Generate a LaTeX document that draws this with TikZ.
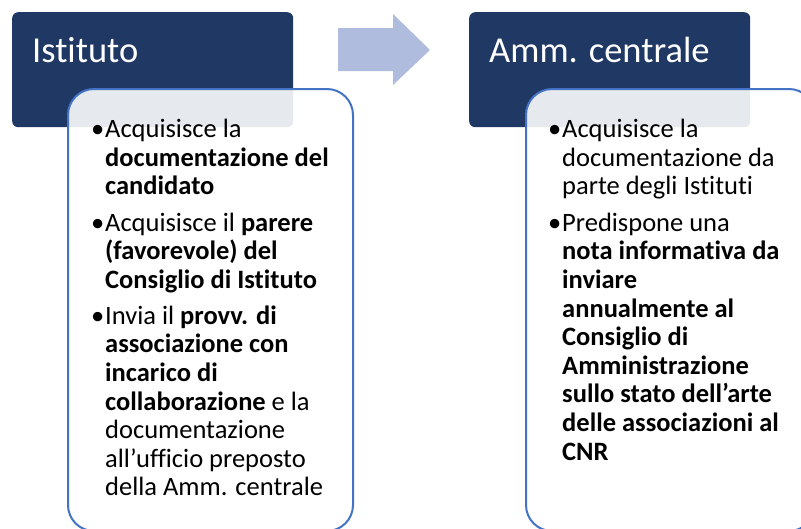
\documentclass[tikz,border=0pt]{standalone}
\usepackage{fontspec}
\setmainfont{Carlito}[Ligatures=NoCommon]
\usepackage{tikz}
\usetikzlibrary{positioning}

\definecolor{headnavy}{RGB}{32,56,100}
\definecolor{boxblue}{RGB}{68,114,196}
\definecolor{arrowblue}{RGB}{175,188,222}

\tikzset{
  headbox/.style={fill=headnavy, rounded corners=6pt, anchor=north west,
    minimum width=281pt, minimum height=115pt, inner sep=0pt},
  bodybox/.style={draw=boxblue, line width=2pt, fill=white, fill opacity=0.89,
    rounded corners=26pt},
  headtext/.style={text=white, font=\fontsize{36.5}{42}\selectfont,
    anchor=base west, inner sep=0pt},
  itemtext/.style={font=\fontsize{26.5}{28.6}\selectfont, align=left,
    anchor=north west, inner sep=0pt},
}

\begin{document}
\begin{tikzpicture}[x=1pt,y=-1pt]
        \useasboundingbox (0,0) rectangle (801,528);

        % Draw the headers
            \node[headbox] (ist) at (12,12) {};
            \node[headbox] (amm) at (469,12) {};
            \node[headtext] (istlabel) at (32,62) {Istituto};
            \node[headtext] (ammlabel) at (489,62) {Amm. centrale};

        % Draw the arrow between the two steps
            \draw[fill=arrowblue, draw=none] (338,28) -- (393,28) -- (393,14)
                -- (430,50) -- (393,85) -- (393,71) -- (338,71) -- cycle;

        % Draw the body boxes
            \draw[bodybox] (68,89) rectangle (353,531);
            \draw[bodybox] (526,89) rectangle (815,531);

        % Items of the first box (top = first baseline - 20)
            \node[itemtext] (ist1) at (105,117.5) {\strut\llap{\textbullet\hspace{1pt}}Acquisisce la\\
                \textbf{documentazione del}\\\textbf{candidato}};
            \node[itemtext] (ist2) at (105,211) {\strut\llap{\textbullet\hspace{1pt}}Acquisisce il \textbf{parere}\\
                \textbf{(favorevole) del}\\\textbf{Consiglio di Istituto}};
            \node[itemtext] (ist3) at (105,304) {\strut\llap{\textbullet\hspace{1pt}}Invia il \textbf{provv. di}\\
                \textbf{associazione con}\\\textbf{incarico di}\\
                \textbf{collaborazione} e la\\documentazione\\
                all’ufficio preposto\\della Amm. centrale};

        % Items of the second box
            \node[itemtext] (amm1) at (562,117.5) {\strut\llap{\textbullet\hspace{1pt}}Acquisisce la\\
                documentazione da\\parte degli Istituti};
            \node[itemtext] (amm2) at (562,211) {\strut\llap{\textbullet\hspace{1pt}}Predispone una\\
                \textbf{nota informativa da}\\\textbf{inviare}\\
                \textbf{annualmente al}\\\textbf{Consiglio di}\\
                \textbf{Amministrazione}\\\textbf{sullo stato dell’arte}\\
                \textbf{delle associazioni al}\\\textbf{CNR}};
    \end{tikzpicture}
\end{document}
